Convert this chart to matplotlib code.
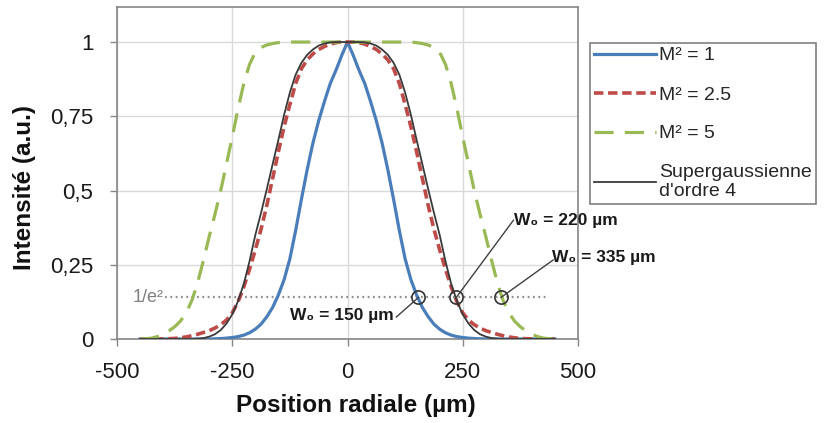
import matplotlib
matplotlib.use('Agg')
import matplotlib.pyplot as plt

plt.rcParams['font.family'] = ['Liberation Sans', 'DejaVu Sans']
plt.rcParams['axes.unicode_minus'] = False

# positions radiales (um)
x = [-450, -437.5, -425, -412.5, -400, -387.5, -375, -362.5, -350, -337.5, -325, -312.5,
     -300, -287.5, -275, -262.5, -250, -237.5, -225, -212.5, -200, -187.5, -175, -162.5,
     -150, -137.5, -125, -112.5, -100, -87.5, -75, -62.5, -50, -37.5, -25, -12.5,
     0,
     12.5, 25, 37.5, 50, 62.5, 75, 87.5, 100, 112.5, 125, 137.5, 150,
     162.5, 175, 187.5, 200, 212.5, 225, 237.5, 250, 262.5, 275, 287.5, 300,
     312.5, 325, 337.5, 350, 362.5, 375, 387.5, 400, 412.5, 425, 437.5, 450]

# M2 = 1
m2_1 = [0, 0, 0, 0, 0, 0, 0, 0, 0, 0, 0, 0,
        0, 0.0007, 0.0015, 0.003, 0.005, 0.008, 0.013, 0.021, 0.033, 0.05, 0.075, 0.106,
        0.148, 0.2, 0.27, 0.365, 0.47, 0.57, 0.66, 0.735, 0.80, 0.86, 0.905, 0.955,
        1.0,
        0.955, 0.905, 0.86, 0.80, 0.735, 0.66, 0.57, 0.47, 0.365, 0.27, 0.2, 0.148,
        0.106, 0.075, 0.05, 0.033, 0.021, 0.013, 0.008, 0.005, 0.003, 0.0015, 0.0007, 0,
        0, 0, 0, 0, 0, 0, 0, 0, 0, 0, 0, 0]

# M2 = 2.5
m2_25 = [0, 0, 0, 0, 0.0005, 0.001, 0.002, 0.004, 0.007, 0.011, 0.016, 0.022,
         0.028, 0.037, 0.048, 0.064, 0.088, 0.125, 0.175, 0.235, 0.30, 0.37, 0.45, 0.54,
         0.63, 0.715, 0.79, 0.86, 0.91, 0.94, 0.96, 0.975, 0.985, 0.993, 0.998, 1.0,
         1.0,
         1.0, 0.998, 0.993, 0.985, 0.975, 0.96, 0.94, 0.91, 0.86, 0.79, 0.715, 0.63,
         0.54, 0.45, 0.37, 0.30, 0.235, 0.175, 0.125, 0.088, 0.064, 0.048, 0.037, 0.028,
         0.022, 0.016, 0.011, 0.007, 0.004, 0.002, 0.001, 0.0005, 0, 0, 0, 0]

# M2 = 5
m2_5 = [0, 0.001, 0.003, 0.008, 0.016, 0.027, 0.041, 0.06, 0.088, 0.13, 0.19, 0.265,
        0.345, 0.42, 0.50, 0.59, 0.68, 0.775, 0.86, 0.925, 0.965, 0.982, 0.99, 0.995,
        0.998, 1.0, 1.0, 1.0, 1.0, 1.0, 1.0, 1.0, 1.0, 1.0, 1.0, 1.0,
        1.0,
        1.0, 1.0, 1.0, 1.0, 1.0, 1.0, 1.0, 1.0, 1.0, 1.0, 1.0, 0.998,
        0.995, 0.99, 0.982, 0.965, 0.925, 0.86, 0.775, 0.68, 0.59, 0.50, 0.42, 0.345,
        0.265, 0.19, 0.13, 0.088, 0.06, 0.041, 0.027, 0.016, 0.008, 0.003, 0.001, 0]

# supergaussienne d'ordre 4
sg4 = [0, 0, 0, 0, 0, 0, 0, 0, 0, 0, 0.001, 0.003,
       0.008, 0.016, 0.03, 0.052, 0.083, 0.127, 0.185, 0.262, 0.35, 0.425, 0.505, 0.588,
       0.67, 0.755, 0.83, 0.89, 0.93, 0.957, 0.975, 0.988, 0.995, 0.999, 1.0, 1.0,
       1.0,
       1.0, 1.0, 0.999, 0.995, 0.988, 0.975, 0.957, 0.93, 0.89, 0.83, 0.755, 0.67,
       0.588, 0.505, 0.425, 0.35, 0.262, 0.185, 0.127, 0.083, 0.052, 0.03, 0.016, 0.008,
       0.003, 0.001, 0, 0, 0, 0, 0, 0, 0, 0, 0, 0]

seuil = 0.14          # niveau 1/e^2
seuil_x = [-395, 432]
w_cross = [154, 236, 333]
w_labels = ['W₀ = 150 µm', 'W₀ = 220 µm', 'W₀ = 335 µm']
w_text_pos = [(100, 0.08), (362, 0.40), (444, 0.273)]
w_line_end = [(106, 0.074), (360, 0.40), (446, 0.266)]

fig = plt.figure(figsize=(8.32, 4.23), dpi=100)
ax = fig.add_axes([117/832, 1 - 339/423, 461/832, 332/423])

ax.plot(x, m2_1, color='#4A7EBB', lw=2.3, label='M² = 1', zorder=3)
ax.plot(x, m2_25, color='#BE4B48', lw=2.6, dashes=(2.6, 1.3), label='M² = 2.5', zorder=3)
ax.plot(x, m2_5, color='#98B954', lw=2.3, dashes=(6, 3.5), label='M² = 5', zorder=3)
ax.plot(x, sg4, color='#3A3A3A', lw=1.3, label="Supergaussienne\nd'ordre 4", zorder=4)

# ligne 1/e2
ax.plot(seuil_x, [seuil, seuil], color='#8C8C8C', lw=1.6, dashes=(0.8, 1.6), zorder=2)
ax.text(seuil_x[0] - 3, seuil, '1/e²', ha='right', va='center', color='#7F7F7F', fontsize=13)

ax.plot(w_cross, [seuil] * len(w_cross), 'o', mfc='none', mec='#333333', ms=9.5, mew=1.2,
        zorder=5, clip_on=False)
for i in range(len(w_cross)):
    ax.plot([w_cross[i], w_line_end[i][0]], [seuil, w_line_end[i][1]], color='#404040',
            lw=1, zorder=5, clip_on=False)
    ha = 'right' if i == 0 else 'left'
    ax.text(w_text_pos[i][0], w_text_pos[i][1], w_labels[i], ha=ha, va='center',
            fontsize=12.5, fontweight='bold', color='#1A1A1A', zorder=6, clip_on=False)

ax.set_xlim(-500, 500)
ax.set_ylim(0, 1.118)
ax.set_xticks([-500, -250, 0, 250, 500])
ax.set_yticks([0, 0.25, 0.5, 0.75, 1])
ax.set_yticklabels(['0', '0,25', '0,5', '0,75', '1'])
ax.grid(color='#D9D9D9', lw=1)
ax.set_axisbelow(True)
for s in ax.spines.values():
    s.set_color('#868686')
    s.set_linewidth(1.2)
ax.tick_params(axis='both', direction='out', length=5, width=1, color='#868686',
               labelsize=16, labelcolor='#1A1A1A')
ax.tick_params(axis='y', pad=12)
ax.tick_params(axis='x', pad=11.5)

ax.set_xlabel('Position radiale (µm)', fontsize=17.5, fontweight='bold', color='#111111')
ax.xaxis.set_label_coords(0.518, -0.2018)
ax.xaxis.label.set_va('center')
ax.set_ylabel('Intensité (a.u.)', fontsize=17.5, fontweight='bold', color='#111111')
ax.yaxis.set_label_coords(-0.2, 0.455)
ax.yaxis.label.set_va('center')

leg = ax.legend(loc='upper left', bbox_to_anchor=(590/832, 1 - 43/423),
                bbox_transform=fig.transFigure, fancybox=False, edgecolor='#808080',
                fontsize=14, handlelength=3.2, borderpad=0.2, labelspacing=1.1,
                handletextpad=0.15, borderaxespad=0, framealpha=1)
leg.get_frame().set_linewidth(1.2)
for t in leg.get_texts():
    t.set_color('#262626')

fig.savefig('out.png', dpi=100)
